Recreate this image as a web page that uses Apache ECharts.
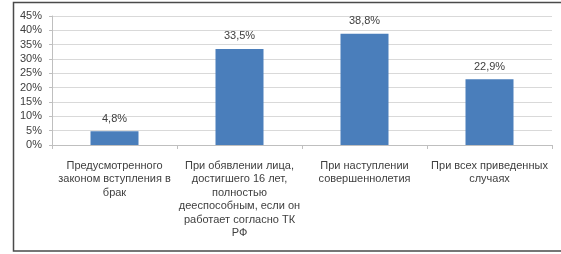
<!DOCTYPE html>
<html>
<head>
<meta charset="utf-8">
<script src="https://cdn.jsdelivr.net/npm/echarts@6/dist/echarts.min.js"></script>
<style>
html,body{margin:0;padding:0;background:#fff;}
#c{width:561px;height:254px;}
</style>
</head>
<body>
<div id="c"></div>
<script>
var categories = [
  "Предусмотренного\nзаконом вступления в\nбрак",
  "При обявлении лица,\nдостигшего 16 лет,\nполностью\nдееспособным, если он\nработает согласно ТК\nРФ",
  "При наступлении\nсовершеннолетия",
  "При всех приведенных\nслучаях"
];
var values = [4.8, 33.5, 38.8, 22.9];
var yTicks = { min: 0, max: 45, interval: 5 };

var font = "Liberation Sans";
var chart = echarts.init(document.getElementById('c'), null, { renderer: 'canvas' });
chart.setOption({
  animation: false,
  backgroundColor: '#fff',
  graphic: [{
    type: 'rect',
    shape: { x: 13.5, y: 2.5, width: 560, height: 248.5 },
    style: { fill: 'none', stroke: '#4a4a4a', lineWidth: 1.5 },
    silent: true
  }],
  grid: { left: 52, right: 9, top: 16, bottom: 109 },
  xAxis: {
    type: 'category',
    data: categories,
    axisLine: { lineStyle: { color: '#bfbfbf' } },
    axisTick: { show: true, length: 4, lineStyle: { color: '#bfbfbf' } },
    axisLabel: {
      interval: 0, margin: 14, color: '#404040', fontFamily: font,
      fontSize: 11, lineHeight: 13.5
    }
  },
  yAxis: {
    type: 'value',
    min: yTicks.min, max: yTicks.max, interval: yTicks.interval,
    axisLine: { show: true, lineStyle: { color: '#bfbfbf' } },
    axisTick: { show: true, length: 3, lineStyle: { color: '#bfbfbf' } },
    axisLabel: {
      margin: 10, color: '#404040', fontFamily: font, fontSize: 11,
      formatter: function (v) { return v + '%'; }
    },
    splitLine: { lineStyle: { color: '#d9d9d9' } }
  },
  series: [{
    type: 'bar',
    data: values,
    barWidth: 48,
    itemStyle: { color: '#4a7ebb' },
    label: {
      show: true, position: 'top', distance: 7,
      color: '#404040', fontFamily: font, fontSize: 11,
      formatter: function (p) { return String(p.value.toFixed(1)).replace('.', ',') + '%'; }
    }
  }]
});
</script>
</body>
</html>
